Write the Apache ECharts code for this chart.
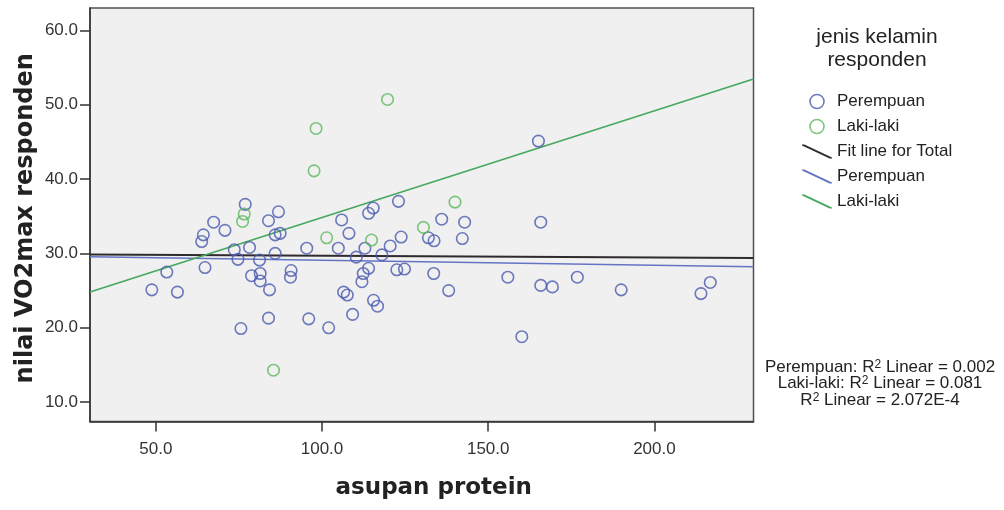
<!DOCTYPE html>
<html>
<head>
<meta charset="utf-8">
<script src="https://cdn.jsdelivr.net/npm/echarts@6/dist/echarts.min.js"></script>
<style>
  html, body { margin: 0; padding: 0; background: #fff; }
  #chart { width: 1004px; height: 510px; }
</style>
</head>
<body>
<div id="chart"></div>
<script>
// Respondents: protein intake (x) against VO2max (y), split by sex
const femaleProtein = [48.8, 56.5, 53.3, 64.8, 64.3, 63.8, 67.4, 70.8, 73.6, 74.7, 76.9, 78.2, 81.2, 78.8,
  81.4, 81.4, 84.2, 83.9, 86.9, 85.9, 87.4, 85.9, 90.7, 90.5, 95.4, 83.9, 75.6, 96.0, 102.0, 104.9,
  105.9, 108.1, 110.3, 112.9, 114.0, 115.4, 118.0, 120.5, 123.8, 123.0, 114.0, 112.4, 112.0, 106.5,
  107.6, 115.5, 116.7, 109.2, 122.5, 124.8, 132.0, 133.7, 136.0, 142.9, 142.2, 133.6, 138.1, 165.1,
  165.8, 155.9, 165.8, 169.3, 176.8, 190.0, 214.0, 216.8, 160.1];
const femaleVO2 = [25.1, 24.8, 27.5, 28.1, 32.5, 31.6, 34.2, 33.1, 30.5, 29.2, 36.6, 30.8, 29.1, 27.0,
  27.3, 26.3, 25.1, 34.4, 35.6, 32.5, 32.7, 30.0, 27.7, 26.8, 30.7, 21.3, 19.9, 21.2, 20.0, 30.7,
  34.5, 32.7, 29.5, 30.7, 35.4, 36.1, 29.8, 31.0, 32.2, 37.0, 28.0, 27.3, 26.2, 24.8,
  24.4, 23.7, 22.9, 21.8, 27.8, 27.9, 32.1, 31.7, 34.6, 34.2, 32.0, 27.3, 25.0, 45.1,
  34.2, 26.8, 25.7, 25.5, 26.8, 25.1, 24.6, 26.1, 18.8];
const maleProtein = [119.7, 98.2, 97.6, 140.0, 130.5, 101.4, 114.9, 85.4, 76.6, 76.1];
const maleVO2 = [50.7, 46.8, 41.1, 36.9, 33.5, 32.1, 31.8, 14.3, 35.3, 34.3];

// Linear fit lines, given by their two ends across the protein range
const fitProtein = [30.2, 229.8];
const fitTotalVO2 = [29.85, 29.4];
const fitFemaleVO2 = [29.55, 28.2];
const fitMaleVO2 = [24.8, 53.45];

// Axis ranges and tick labels
const xRange = [30.2, 229.8];
const yRange = [7.4, 63.0];
const xTicks = [50, 100, 150, 200];
const yTicks = [10, 20, 30, 40, 50, 60];

// Legend and fit annotations
const legendTitle = ['jenis kelamin', 'responden'];
const legendLabels = ['Perempuan', 'Laki-laki', 'Fit line for Total', 'Perempuan', 'Laki-laki'];
const r2Notes = [
  ['Perempuan: R', '2', ' Linear = 0.002'],
  ['Laki-laki: R', '2', ' Linear = 0.081'],
  ['R', '2', ' Linear = 2.072E-4']
];

const BLUE = '#4a5aae';
const GREEN = '#5cb85c';
const FIT_TOTAL = '#2f2a2e';
const FIT_BLUE = '#6574c2';
const FIT_GREEN = '#45a85e';
const SANS = '"Liberation Sans", Arial, sans-serif';
const BOLD = '"DejaVu Sans", sans-serif';

const zip = (xs, ys) => xs.map((x, i) => [x, ys[i]]);
const seriesKeys = ['Perempuan', 'Laki-laki', 'Fit line for Total', 'Perempuan fit', 'Laki-laki fit'];
const labelOf = {};
seriesKeys.forEach((k, i) => { labelOf[k] = legendLabels[i]; });

const slash = 'path://M0,0L2.4,0L30,13L30,14L27.6,14L0,1Z';

const chart = echarts.init(document.getElementById('chart'), null, { renderer: 'canvas' });

chart.setOption({
  animation: false,
  backgroundColor: '#ffffff',
  grid: {
    left: 90, top: 8, width: 663.5, height: 413.5,
    show: true, backgroundColor: '#f0f0f0', borderColor: '#505050', borderWidth: 1.5
  },
  xAxis: {
    type: 'value', min: xRange[0], max: xRange[1],
    axisLine: { show: true, onZero: false, lineStyle: { color: '#333', width: 1.5 } },
    axisTick: { show: true, length: 10, customValues: xTicks, lineStyle: { color: '#333', width: 1.5 } },
    axisLabel: { customValues: xTicks, formatter: v => v.toFixed(1), fontSize: 17, color: '#333',
      fontFamily: SANS, margin: 19 },
    splitLine: { show: false },
    name: 'asupan protein', nameLocation: 'middle', nameGap: 55, nameMoveOverlap: false,
    nameTextStyle: { fontFamily: BOLD, fontWeight: 'bold', fontSize: 23, color: '#222',
      padding: [0, 0, 0, 24] }
  },
  yAxis: {
    type: 'value', min: yRange[0], max: yRange[1],
    axisLine: { show: true, onZero: false, lineStyle: { color: '#333', width: 1.5 } },
    axisTick: { show: true, length: 10, customValues: yTicks, lineStyle: { color: '#333', width: 1.5 } },
    axisLabel: { customValues: yTicks, formatter: v => v.toFixed(1), fontSize: 17, color: '#333',
      fontFamily: SANS, margin: 12 },
    splitLine: { show: false },
    name: 'nilai VO2max responden', nameLocation: 'middle', nameGap: 52, nameMoveOverlap: false,
    nameTextStyle: { fontFamily: BOLD, fontWeight: 'bold', fontSize: 24, color: '#222',
      padding: [0, 7, 0, 0] }
  },
  legend: {
    orient: 'vertical', left: 797, top: 88,
    itemWidth: 30, itemHeight: 14, itemGap: 8,
    textStyle: { fontFamily: SANS, fontSize: 17, color: '#222' },
    formatter: n => labelOf[n],
    selectedMode: false,
    data: [
      { name: 'Perempuan', icon: 'circle', itemStyle: { color: 'rgba(255,255,255,0)', borderColor: BLUE, borderWidth: 1.6 } },
      { name: 'Laki-laki', icon: 'circle', itemStyle: { color: 'rgba(255,255,255,0)', borderColor: GREEN, borderWidth: 1.6 } },
      { name: 'Fit line for Total', icon: slash, itemStyle: { color: FIT_TOTAL } },
      { name: 'Perempuan fit', icon: slash, itemStyle: { color: FIT_BLUE } },
      { name: 'Laki-laki fit', icon: slash, itemStyle: { color: FIT_GREEN } }
    ]
  },
  graphic: [
    ...legendTitle.map((t, i) => ({
      type: 'text', x: 877, y: 37 + i * 23,
      style: { text: t, fontFamily: SANS, fontSize: 21, fill: '#222', align: 'center', verticalAlign: 'middle' }
    })),
    ...r2Notes.map((parts, i) => ({
      type: 'text', x: 880, y: 367 + i * 16.5,
      style: {
        text: '{n|' + parts[0] + '}{s|' + parts[1] + '}{n|' + parts[2] + '}',
        align: 'center', verticalAlign: 'middle',
        rich: {
          n: { fontFamily: SANS, fontSize: 17, fill: '#222', lineHeight: 17 },
          s: { fontFamily: SANS, fontSize: 12, fill: '#222', lineHeight: 17, verticalAlign: 'top', padding: [0, 0, 6, 0] }
        }
      }
    }))
  ],
  series: [
    {
      name: 'Fit line for Total', type: 'line', data: zip(fitProtein, fitTotalVO2),
      showSymbol: false, silent: true, color: FIT_TOTAL,
      lineStyle: { color: FIT_TOTAL, width: 2 }, z: 1
    },
    {
      name: 'Perempuan fit', type: 'line', data: zip(fitProtein, fitFemaleVO2),
      showSymbol: false, silent: true, color: FIT_BLUE,
      lineStyle: { color: FIT_BLUE, width: 1.6 }, z: 1
    },
    {
      name: 'Laki-laki fit', type: 'line', data: zip(fitProtein, fitMaleVO2),
      showSymbol: false, silent: true, color: FIT_GREEN,
      lineStyle: { color: FIT_GREEN, width: 1.6 }, z: 1
    },
    {
      name: 'Perempuan', type: 'scatter', data: zip(femaleProtein, femaleVO2),
      symbol: 'circle', symbolSize: 11.5,
      itemStyle: { color: 'rgba(255,255,255,0)', borderColor: BLUE, borderWidth: 1.6 }, z: 3
    },
    {
      name: 'Laki-laki', type: 'scatter', data: zip(maleProtein, maleVO2),
      symbol: 'circle', symbolSize: 11.5,
      itemStyle: { color: 'rgba(255,255,255,0)', borderColor: GREEN, borderWidth: 1.6 }, z: 3
    }
  ]
});
</script>
</body>
</html>
